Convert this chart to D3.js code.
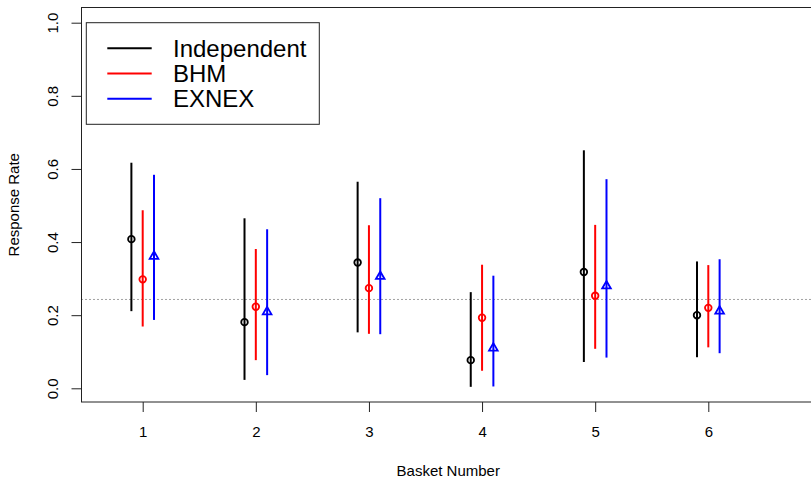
<!DOCTYPE html>
<html>
<head>
<meta charset="utf-8">
<script src="https://cdn.jsdelivr.net/npm/d3@7"></script>
<style>
  html, body { margin: 0; padding: 0; background: #fff; }
  svg { display: block; }
  text { font-family: "Liberation Sans", Arial, Helvetica, sans-serif; fill: #000; }
</style>
</head>
<body>
<svg id="chart" width="811" height="478"></svg>
<script>
// ---- data ----
const baskets = [1, 2, 3, 4, 5, 6];
const yTicks = [0.0, 0.2, 0.4, 0.6, 0.8, 1.0];

const indEst = [0.408, 0.181, 0.344, 0.077, 0.318, 0.200];
const indLo  = [0.211, 0.023, 0.153, 0.004, 0.072, 0.085];
const indHi  = [0.617, 0.465, 0.565, 0.263, 0.651, 0.347];

const bhmEst = [0.298, 0.223, 0.274, 0.193, 0.253, 0.220];
const bhmLo  = [0.169, 0.077, 0.149, 0.048, 0.108, 0.112];
const bhmHi  = [0.487, 0.381, 0.446, 0.338, 0.447, 0.337];

const exEst  = [0.361, 0.209, 0.306, 0.110, 0.280, 0.211];
const exLo   = [0.187, 0.036, 0.148, 0.005, 0.084, 0.096];
const exHi   = [0.584, 0.435, 0.520, 0.308, 0.572, 0.353];

const refLine = 0.243;

const seriesNames = ["Independent", "BHM", "EXNEX"];
const seriesColors = ["#000000", "#ff0000", "#0000ff"];
const seriesOffsets = [-0.1, 0, 0.1];
const seriesShapes = ["circle", "circle", "triangle"];

// ---- layout ----
const svg = d3.select("#chart");
const box = { left: 81.5, top: 7.5, right: 815, bottom: 402 };

const x = d3.scaleLinear().domain([1, 6]).range([142.7, 708.3]);
const y = d3.scaleLinear().domain([0, 1]).range([388.3, 22.7]);

// reference dotted line
svg.append("line")
  .attr("x1", box.left).attr("x2", box.right)
  .attr("y1", y(refLine)).attr("y2", y(refLine))
  .attr("stroke", "#444").attr("stroke-width", 1)
  .attr("stroke-dasharray", "1,3");

// series
const series = [
  { est: indEst, lo: indLo, hi: indHi },
  { est: bhmEst, lo: bhmLo, hi: bhmHi },
  { est: exEst, lo: exLo, hi: exHi }
];

series.forEach((s, si) => {
  const g = svg.append("g");
  const color = seriesColors[si];
  const off = seriesOffsets[si];
  baskets.forEach((b, i) => {
    const cx = x(b + off);
    g.append("line")
      .attr("x1", cx).attr("x2", cx)
      .attr("y1", y(s.lo[i])).attr("y2", y(s.hi[i]))
      .attr("stroke", color).attr("stroke-width", 2);
    const cy = y(s.est[i]);
    if (seriesShapes[si] === "circle") {
      g.append("circle")
        .attr("cx", cx).attr("cy", cy).attr("r", 3.3)
        .attr("fill", "none").attr("stroke", color).attr("stroke-width", 1.8);
    } else {
      const r = 5.0, xc = r * Math.sqrt(3) / 2, yc = r / 2;
      g.append("path")
        .attr("d", `M${cx},${cy - r}L${cx + xc},${cy + yc}L${cx - xc},${cy + yc}Z`)
        .attr("fill", "none").attr("stroke", color).attr("stroke-width", 1.8)
        .attr("stroke-linejoin", "miter");
    }
  });
});

// plot box
svg.append("rect")
  .attr("x", box.left).attr("y", box.top)
  .attr("width", box.right - box.left).attr("height", box.bottom - box.top)
  .attr("fill", "none").attr("stroke", "#222").attr("stroke-width", 1);

// y axis
const yAxis = svg.append("g")
  .attr("transform", `translate(${box.left},0)`)
  .call(d3.axisLeft(y).tickValues(yTicks).tickSize(10).tickSizeOuter(0).tickFormat(d3.format(".1f")));
yAxis.select(".domain").remove();
yAxis.selectAll(".tick line").attr("stroke", "#222");
yAxis.selectAll(".tick text")
  .attr("x", null).attr("dy", null)
  .attr("transform", "translate(-23.5,0) rotate(-90)")
  .attr("text-anchor", "middle")
  .style("font-size", "15px")
  .style("font-family", "'Liberation Sans', Arial, sans-serif");

// x axis
const xAxis = svg.append("g")
  .attr("transform", `translate(0,${box.bottom})`)
  .call(d3.axisBottom(x).tickValues(baskets).tickSize(10).tickSizeOuter(0).tickFormat(d3.format("d")));
xAxis.select(".domain").remove();
xAxis.selectAll(".tick line").attr("stroke", "#222");
xAxis.selectAll(".tick text")
  .attr("y", 35).attr("dy", null)
  .style("font-size", "15px")
  .style("font-family", "'Liberation Sans', Arial, sans-serif");

// axis titles
svg.append("text")
  .attr("x", (box.left + box.right) / 2).attr("y", 476)
  .attr("text-anchor", "middle").style("font-size", "15px")
  .text("Basket Number");
svg.append("text")
  .attr("transform", `translate(19,${(box.top + box.bottom) / 2}) rotate(-90)`)
  .attr("text-anchor", "middle").style("font-size", "15px")
  .text("Response Rate");

// legend
const lg = svg.append("g");
lg.append("rect")
  .attr("x", 86.3).attr("y", 22.7).attr("width", 233).attr("height", 101.6)
  .attr("fill", "#fff").attr("stroke", "#222").attr("stroke-width", 1);
seriesNames.forEach((name, i) => {
  const ly = 48.3 + i * 25.2;
  lg.append("line")
    .attr("x1", 107.3).attr("x2", 151.7).attr("y1", ly).attr("y2", ly)
    .attr("stroke", seriesColors[i]).attr("stroke-width", 2);
  lg.append("text")
    .attr("x", 173).attr("y", ly + 8.5)
    .style("font-size", "24px")
    .text(name);
});
</script>
</body>
</html>
